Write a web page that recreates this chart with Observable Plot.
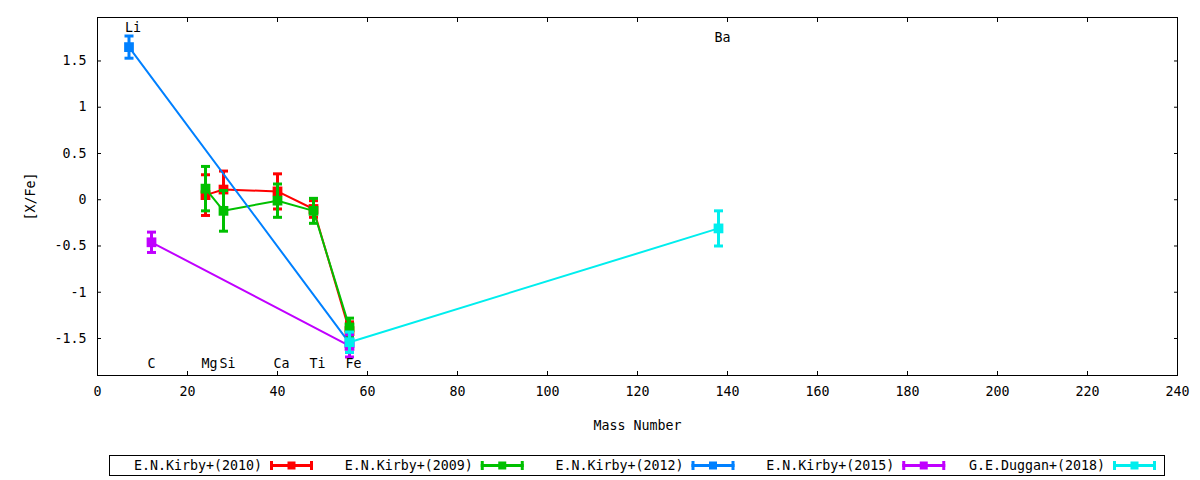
<!DOCTYPE html>
<html>
<head>
<meta charset="utf-8">
<script src="https://cdn.jsdelivr.net/npm/d3@7"></script>
<script src="https://cdn.jsdelivr.net/npm/@observablehq/plot@0.6"></script>
<style>
  body { margin: 0; background: #fff; }
  #chart { width: 1200px; }
  #chart svg { display: block; }
</style>
</head>
<body>
<div id="chart"></div>
<script>
// series in drawing order
const seriesNames = ["E.N.Kirby+(2010)", "E.N.Kirby+(2009)", "E.N.Kirby+(2012)", "E.N.Kirby+(2015)", "G.E.Duggan+(2018)"]
const seriesColors = ["#ff0000", "#00c000", "#0080ff", "#c000ff", "#00eeee"]

// mass number, [X/Fe], error
const kirby2010Mass = [24, 28, 40, 48, 56]
const kirby2010Val = [0.05, 0.11, 0.09, -0.10, -1.42]
const kirby2010Err = [0.22, 0.20, 0.19, 0.09, 0.10]

const kirby2009Mass = [24, 28, 40, 48, 56]
const kirby2009Val = [0.12, -0.12, -0.01, -0.12, -1.38]
const kirby2009Err = [0.24, 0.22, 0.18, 0.135, 0.10]

const kirby2012Mass = [7, 56]
const kirby2012Val = [1.65, -1.55]
const kirby2012Err = [0.12, 0.10]

const kirby2015Mass = [12, 56]
const kirby2015Val = [-0.46, -1.58]
const kirby2015Err = [0.11, 0.12]

const duggan2018Mass = [56, 138]
const duggan2018Val = [-1.54, -0.31]
const duggan2018Err = [0.11, 0.19]

// element labels
const elemNames = ["Li", "C", "Mg", "Si", "Ca", "Ti", "Fe", "Ba"]
const elemMass = [7, 12, 24, 28, 40, 48, 56, 138]
const elemY = [1.86, -1.77, -1.77, -1.77, -1.77, -1.77, -1.77, 1.755]

const xTicks = [0, 20, 40, 60, 80, 100, 120, 140, 160, 180, 200, 220, 240]
const yTicks = [-1.5, -1, -0.5, 0, 0.5, 1, 1.5]

const masses = [kirby2010Mass, kirby2009Mass, kirby2012Mass, kirby2015Mass, duggan2018Mass]
const vals = [kirby2010Val, kirby2009Val, kirby2012Val, kirby2015Val, duggan2018Val]
const errs = [kirby2010Err, kirby2009Err, kirby2012Err, kirby2015Err, duggan2018Err]

const series = seriesNames.map((name, i) => ({
  name,
  color: seriesColors[i],
  rows: masses[i].map((m, j) => ({mass: m, val: vals[i][j], err: errs[i][j]}))
}))

const elems = elemNames.map((n, i) => ({name: n, mass: elemMass[i], y: elemY[i]}))

// flat horizontal cap for the error bars
const capSymbol = {
  draw(ctx, size) {
    const h = Math.sqrt(size / Math.PI)
    ctx.moveTo(-h, 0)
    ctx.lineTo(h, 0)
  }
}

let marks = []
series.forEach(s => {
  marks.push(
    Plot.line(s.rows, {x: "mass", y: "val", stroke: s.color, strokeWidth: 2}),
    Plot.ruleX(s.rows, {x: "mass", y1: d => d.val - d.err, y2: d => d.val + d.err, stroke: s.color, strokeWidth: 3}),
    Plot.dot(s.rows, {x: "mass", y: d => d.val + d.err, symbol: capSymbol, r: 4.5, fill: "none", stroke: s.color, strokeWidth: 3}),
    Plot.dot(s.rows, {x: "mass", y: d => d.val - d.err, symbol: capSymbol, r: 4.5, fill: "none", stroke: s.color, strokeWidth: 3}),
    Plot.dot(s.rows, {x: "mass", y: "val", symbol: "square", r: 5.5, fill: s.color, stroke: null})
  )
})

let chart = Plot.plot({
  width: 1200,
  height: 440,
  marginLeft: 97,
  marginRight: 23,
  marginTop: 17,
  marginBottom: 65,
  style: {fontFamily: "DejaVu Sans Mono", fontSize: "13.3px", background: "white", color: "black"},
  x: {domain: [0, 240]},
  y: {domain: [-1.9, 1.97]},
  marks: [
    ...marks,
    Plot.text(elems, {x: "mass", y: "y", text: "name", textAnchor: "start", dx: -4, fill: "black"}),
    Plot.axisX({anchor: "bottom", ticks: xTicks, tickSize: -4, tickPadding: 15, tickFormat: d => String(d),
      label: "Mass Number", labelAnchor: "center", labelOffset: 54, labelArrow: "none"}),
    Plot.axisX({anchor: "top", ticks: xTicks, tickSize: -4, tickFormat: () => "", label: null}),
    Plot.axisY({anchor: "left", ticks: yTicks, tickSize: -4, tickPadding: 15, tickFormat: d => String(d),
      label: "[X/Fe]", labelAnchor: "center", labelOffset: 72, labelArrow: "none"}),
    Plot.axisY({anchor: "right", ticks: yTicks, tickSize: -4, tickFormat: () => "", label: null}),
    Plot.frame({stroke: "black"})
  ]
})

d3.select("#chart").append(() => chart)

// legend below the plot
const leg = d3.select("#chart").append("svg")
  .attr("width", 1200).attr("height", 40)
  .style("font-family", "DejaVu Sans Mono").style("font-size", "13.3px")
leg.append("rect").attr("x", 109.5).attr("y", 15.5).attr("width", 1055).attr("height", 20)
  .attr("fill", "none").attr("stroke", "black")
series.forEach((s, i) => {
  const end = 262 + i * 210.75
  const g = leg.append("g")
  g.append("text").attr("x", end).attr("y", 25.5).attr("text-anchor", "end")
    .attr("dominant-baseline", "central").text(s.name)
  const x0 = end + 8, x1 = end + 51, xm = (x0 + x1) / 2
  g.append("line").attr("x1", x0).attr("x2", x1).attr("y1", 25.5).attr("y2", 25.5)
    .attr("stroke", s.color).attr("stroke-width", 3)
  g.append("line").attr("x1", x0 + 1.5).attr("x2", x0 + 1.5).attr("y1", 21).attr("y2", 30)
    .attr("stroke", s.color).attr("stroke-width", 3)
  g.append("line").attr("x1", x1 - 1.5).attr("x2", x1 - 1.5).attr("y1", 21).attr("y2", 30)
    .attr("stroke", s.color).attr("stroke-width", 3)
  g.append("rect").attr("x", xm - 4).attr("y", 21.5).attr("width", 8).attr("height", 8)
    .attr("fill", s.color)
})
</script>
</body>
</html>
